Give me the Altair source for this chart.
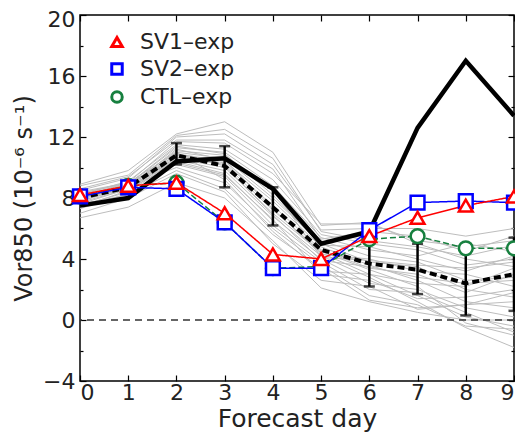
import altair as alt
import pandas as pd

days = [0, 1, 2, 3, 4, 5, 6, 7, 8, 9]

obs = [7.5, 8.0, 10.4, 10.6, 8.6, 5.0, 5.8, 12.6, 17.0, 13.4]
ens_mean = [8.0, 8.7, 10.8, 10.1, 7.4, 4.6, 3.7, 3.3, 2.4, 3.0]
err_days = [2, 3, 4, 6, 7, 8, 9]
err_lo = [10.2, 8.7, 6.2, 2.2, 1.7, 0.3, 0.6]
err_hi = [11.6, 11.4, 8.7, 5.0, 5.0, 4.7, 5.4]

sv1 = [8.2, 8.8, 9.0, 7.0, 4.3, 4.0, 5.5, 6.7, 7.5, 8.1]
sv2 = [8.1, 8.7, 8.6, 6.4, 3.4, 3.4, 5.9, 7.7, 7.8, 7.7]
ctl = [8.1, 8.8, 9.0, 6.4, 3.4, 3.5, 5.3, 5.5, 4.7, 4.7]

members = [
    [8.9, 9.8, 12.2, 13.0, 11.0, 6.2, 6.4, 5.0, 4.0, 3.5],
    [8.5, 9.3, 12.0, 12.2, 10.2, 5.9, 6.0, 6.0, 5.5, 6.0],
    [8.3, 9.0, 11.7, 11.6, 9.6, 6.3, 6.3, 5.2, 4.8, 5.2],
    [8.2, 9.1, 11.5, 11.2, 9.2, 5.6, 5.0, 4.6, 3.6, 4.0],
    [8.0, 8.9, 11.3, 11.0, 8.8, 5.4, 4.6, 4.2, 5.0, 4.5],
    [7.9, 8.8, 11.1, 10.8, 8.5, 5.2, 4.2, 3.8, 2.6, 2.8],
    [7.8, 8.7, 11.0, 10.6, 8.0, 5.0, 3.8, 3.5, 2.0, 1.5],
    [7.6, 8.6, 10.9, 10.4, 7.8, 4.8, 3.6, 2.6, 1.2, 0.8],
    [8.1, 8.5, 10.8, 10.3, 7.5, 4.6, 3.4, 3.0, 1.8, 3.0],
    [7.5, 8.4, 10.7, 10.2, 7.2, 4.5, 3.3, 2.2, -0.2, -1.0],
    [7.3, 8.3, 10.6, 10.0, 7.0, 4.4, 3.0, 1.6, 0.2, -0.4],
    [7.9, 8.9, 10.5, 9.8, 6.8, 4.2, 2.8, 1.2, -0.5, -1.8],
    [8.4, 9.0, 10.4, 9.6, 6.5, 4.0, 2.4, 2.0, 0.8, 0.2],
    [7.7, 8.6, 10.2, 9.4, 6.2, 3.8, 2.0, 1.8, 0.5, -0.8],
    [8.0, 8.8, 10.0, 9.0, 6.0, 3.6, 1.6, 1.0, -0.4, -0.6],
    [7.6, 8.2, 9.8, 8.6, 5.6, 3.4, 1.3, 0.8, 1.0, 1.8],
    [6.7, 7.4, 9.0, 8.0, 5.2, 2.1, 1.2, 0.5, 0.0, 0.0],
    [8.6, 9.4, 11.8, 11.8, 9.9, 5.3, 5.8, 5.5, 4.5, 5.5],
    [8.2, 8.9, 11.4, 10.9, 8.2, 4.9, 4.8, 4.0, 3.2, 4.2],
    [7.8, 8.7, 11.2, 10.5, 7.3, 4.3, 4.0, 3.2, 3.0, 2.2],
    [7.4, 8.5, 10.9, 10.1, 6.9, 3.9, 3.5, 2.8, 2.4, 2.6],
    [8.3, 9.0, 11.0, 9.2, 5.8, 3.2, 3.0, 2.4, 2.2, 3.4],
    [7.9, 8.8, 10.3, 9.5, 6.6, 3.0, 2.6, 1.4, 1.5, 2.0],
    [8.1, 9.0, 10.6, 10.7, 8.6, 4.1, 3.9, 3.6, 3.4, 3.8],
    [7.0, 8.0, 9.6, 8.4, 5.0, 2.6, 2.2, 0.7, 1.0, 1.2],
    [8.8, 9.5, 12.1, 12.5, 10.6, 5.8, 5.2, 4.8, 4.2, 4.9],
]

series_names = ["SV1\u2013exp", "SV2\u2013exp", "CTL\u2013exp"]
series_colors = ["#ff0000", "#0000ff", "#17803f"]
series_shapes = ["triangle-up", "square", "circle"]
series_dashes = [[1, 0], [1, 0], [6, 3]]

FONT = "DejaVu Sans"

# ---- data frames ----
mem_df = pd.DataFrame(
    [{"day": d, "v": v, "m": i} for i, row in enumerate(members) for d, v in zip(days, row)]
)
obs_df = pd.DataFrame({"day": days, "v": obs})
mean_df = pd.DataFrame({"day": days, "v": ens_mean})
err_df = pd.DataFrame({"day": err_days, "lo": err_lo, "hi": err_hi})
caps_df = pd.DataFrame({"day": err_days + err_days, "v": err_lo + err_hi})
exp_df = pd.concat(
    [
        pd.DataFrame({"day": days, "v": vals, "series": name, "order": k})
        for k, (name, vals) in enumerate(zip(series_names, [sv1, sv2, ctl]))
    ]
)
zero_df = pd.DataFrame({"z": [0]})

xs = alt.Scale(domain=[0, 9], nice=False)
ys = alt.Scale(domain=[-4, 20], nice=False)
major_y = [-4, 0, 4, 8, 12, 16, 20]
minor_y = [-2, 2, 6, 10, 14, 18]

common_axis = dict(grid=False, domain=False, tickColor="black", tickWidth=1.2,
                   title=None, labels=False)

x_bottom = alt.Axis(orient="bottom", values=days, offset=-6, tickSize=6, grid=False,
                    domain=False, tickColor="black", tickWidth=1.2, labelFont=FONT,
                    labelFontSize=22, labelColor="#222", labelPadding=1,
                    title="Forecast day", titleFont=FONT, titleFontSize=25,
                    titleFontWeight="normal", titleColor="#222", titlePadding=3,
                    format="d")
y_left = alt.Axis(orient="left", values=major_y, offset=-6, tickSize=6, grid=False,
                  domain=False, tickColor="black", tickWidth=1.2, labelFont=FONT,
                  labelFontSize=22, labelColor="#222", labelPadding=5,
                  labelOffset={"condition": {"test": "datum.value == 20", "value": 4},
                               "value": 0},
                  title="Vor850 (10\u207b\u2076 s\u207b\u00b9)", titleFont=FONT,
                  titleFontSize=24, titleFontWeight="normal", titleColor="#222",
                  titlePadding=6, format="d")
x_top = alt.Axis(orient="top", values=days, offset=-6, tickSize=6, **common_axis)
y_right = alt.Axis(orient="right", values=major_y, offset=-6, tickSize=6, **common_axis)
y_left_minor = alt.Axis(orient="left", values=minor_y, offset=-3, tickSize=3, **common_axis)
y_right_minor = alt.Axis(orient="right", values=minor_y, offset=-3, tickSize=3, **common_axis)

gray = alt.Chart(mem_df).mark_line(color="#bdbdbd", strokeWidth=1).encode(
    x=alt.X("day:Q", scale=xs, axis=x_bottom),
    y=alt.Y("v:Q", scale=ys, axis=y_left),
    detail="m:N",
)

zero = alt.Chart(zero_df).mark_rule(color="#333333", strokeWidth=1.5, strokeDash=[7, 5]).encode(
    y=alt.Y("z:Q", scale=ys, axis=None)
)

obs_line = alt.Chart(obs_df).mark_line(color="black", strokeWidth=4.5).encode(
    x=alt.X("day:Q", scale=xs, axis=x_top),
    y=alt.Y("v:Q", scale=ys, axis=y_right),
)

mean_line = alt.Chart(mean_df).mark_line(color="black", strokeWidth=4, strokeDash=[7, 4]).encode(
    x=alt.X("day:Q", scale=xs, axis=None),
    y=alt.Y("v:Q", scale=ys, axis=y_left_minor),
)

err_rule = alt.Chart(err_df).mark_rule(color="black", strokeWidth=2.5).encode(
    x=alt.X("day:Q", scale=xs, axis=None),
    y=alt.Y("lo:Q", scale=ys, axis=y_right_minor),
    y2="hi:Q",
)

err_caps = alt.Chart(caps_df).mark_tick(color="black", orient="horizontal", size=11,
                                        thickness=2.5).encode(
    x=alt.X("day:Q", scale=xs, axis=None),
    y=alt.Y("v:Q", scale=ys, axis=None),
)

exp_line_layers = []
for name, col, dash in reversed(list(zip(series_names, series_colors, series_dashes))):
    exp_line_layers.append(
        alt.Chart(exp_df).transform_filter(alt.datum.series == name)
        .mark_line(strokeWidth=1.5, color=col, strokeDash=dash)
        .encode(
            x=alt.X("day:Q", scale=xs, axis=None),
            y=alt.Y("v:Q", scale=ys, axis=None),
        )
    )

color_scale = alt.Scale(domain=series_names, range=series_colors)
shape_scale = alt.Scale(domain=series_names, range=series_shapes)

legend = alt.Legend(title=None, orient="none", legendX=26, legendY=16, labelFont=FONT,
                    labelFontSize=22, labelColor="#222", symbolSize=110,
                    symbolStrokeWidth=3, rowPadding=4, labelOffset=12, padding=0)

exp_pts = alt.Chart(exp_df).mark_point(filled=False, fill="white", size=190,
                                       strokeWidth=2.5, opacity=1).encode(
    x=alt.X("day:Q", scale=xs, axis=None),
    y=alt.Y("v:Q", scale=ys, axis=None),
    color=alt.Color("series:N", scale=color_scale, legend=legend),
    shape=alt.Shape("series:N", scale=shape_scale, legend=legend),
    order=alt.Order("order:Q", sort="descending"),
)

chart = (
    alt.layer(gray, zero, mean_line, err_rule, err_caps, obs_line, *exp_line_layers, exp_pts)
    .resolve_axis(x="independent", y="independent")
    .properties(width=434, height=366,
                padding={"left": 72, "top": 7, "right": 1, "bottom": 53},
                autosize=alt.AutoSizeParams(type="none"),
                background="white")
    .configure_view(stroke="black", strokeWidth=1.5)
)

chart.save("out.html", embed_options={"renderer": "svg", "actions": False})
